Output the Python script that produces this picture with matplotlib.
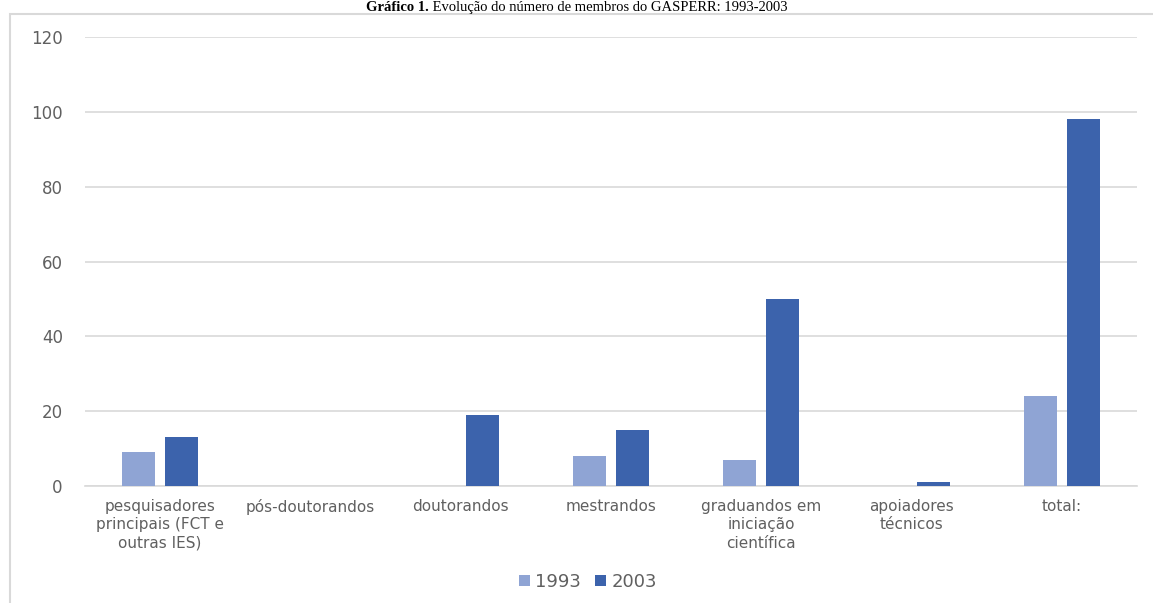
import matplotlib.pyplot as plt
import numpy as np
from matplotlib.patches import Rectangle

categorias = ["pesquisadores\nprincipais (FCT e\noutras IES)", "pós-doutorandos", "doutorandos",
              "mestrandos", "graduandos em\niniciação\ncientífica", "apoiadores\ntécnicos", "total:"]
anos = ["1993", "2003"]
membros_1993 = [9, 0, 0, 8, 7, 0, 24]
membros_2003 = [13, 0, 19, 15, 50, 1, 98]

cor_1993 = "#8FA4D4"
cor_2003 = "#3C63AC"
cinza = "#606060"

plt.rcParams['font.family'] = ['DejaVu Sans']

fig = plt.figure(figsize=(11.53, 6.03), dpi=100)
ax = fig.add_axes([0.0737, 0.194, 0.9125, 0.7446])

x = np.arange(len(categorias))
w = 0.22
ax.bar(x - 0.143, membros_1993, w, color=cor_1993, label=anos[0], zorder=3)
ax.bar(x + 0.143, membros_2003, w, color=cor_2003, label=anos[1], zorder=3)

ax.set_xlim(-0.5, len(categorias) - 0.5)
ax.set_ylim(0, 120)
ax.set_yticks(range(0, 121, 20))
ax.yaxis.grid(True, color="#D9D9D9", linewidth=1.2, zorder=0)
ax.set_xticks(x)
ax.set_xticklabels(categorias, linespacing=1.3)
ax.tick_params(axis='both', length=0, colors=cinza)
ax.tick_params(axis='x', pad=9, labelsize=11)
ax.tick_params(axis='y', pad=16, labelsize=12)
for s in ['top', 'right', 'left']:
    ax.spines[s].set_visible(False)
ax.spines['bottom'].set_color("#D9D9D9")
ax.spines['bottom'].set_linewidth(1.2)

fig.legend(loc='center', bbox_to_anchor=(0.51, 0.035), ncol=2, frameon=False,
           fontsize=13, labelcolor=cinza, handlelength=0.6, handleheight=0.6,
           columnspacing=0.8, handletextpad=0.3)

# moldura do gráfico
fig.patches.append(Rectangle((10 / 1153, -0.1), 1.2, 1 - 14 / 603 + 0.1, transform=fig.transFigure,
                             fill=False, edgecolor="#D9D9D9", linewidth=1.5))

# título: parte em negrito e o restante normal
t1 = fig.text(0.5, 0.999, "Gráfico 1.", ha='right', va='top', fontsize=10.5,
              family='Liberation Serif', weight='bold')
t2 = fig.text(0.5, 0.999, " Evolução do número de membros do GASPERR: 1993-2003", ha='left', va='top',
              fontsize=10.5, family='Liberation Serif')
fig.canvas.draw()
r = fig.canvas.get_renderer()
w1 = t1.get_window_extent(r).width / fig.bbox.width
w2 = t2.get_window_extent(r).width / fig.bbox.width
x0 = 0.5 - (w1 + w2) / 2
t1.set_x(x0 + w1)
t2.set_x(x0 + w1)

fig.savefig("out.png", dpi=100)
